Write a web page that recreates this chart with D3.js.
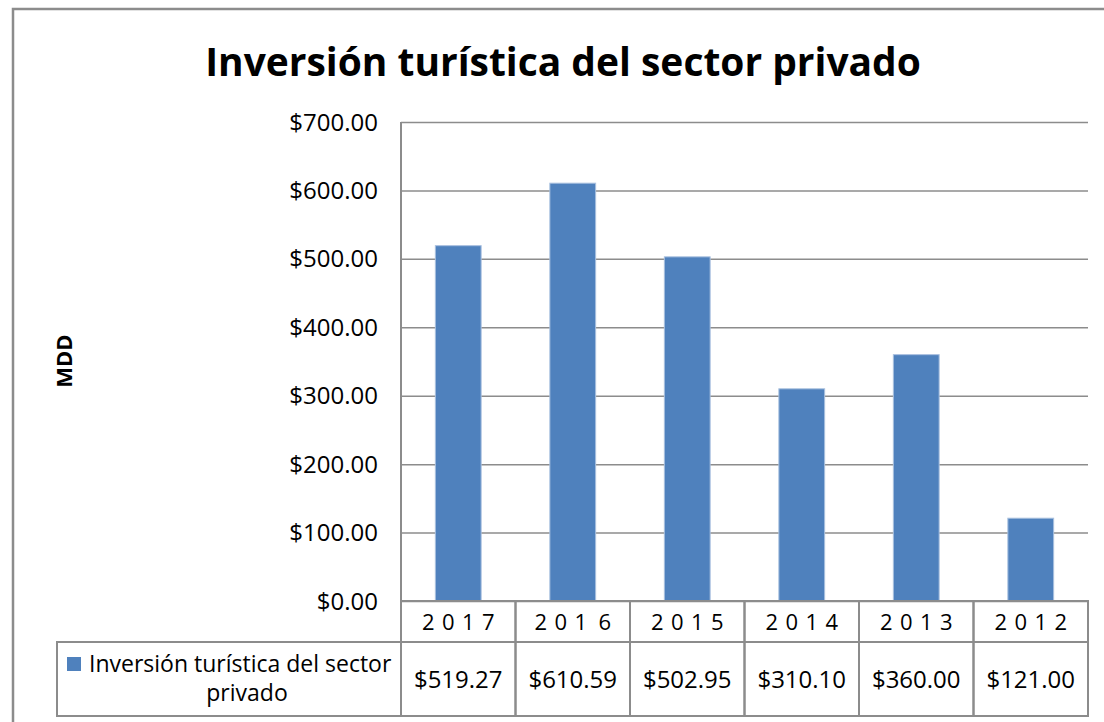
<!DOCTYPE html>
<meta charset="utf-8">
<style>
body { margin: 0; background: #fff; }
svg { font-family: "Open Sans", sans-serif; display: block; }
.grid line { stroke: #8c8c8c; stroke-width: 1.5; }
.grid path { display: none; }
.cell { fill: none; stroke: #8c8c8c; stroke-width: 2; }
</style>
<body>
<svg width="1104" height="722"></svg>
<script src="https://d3js.org/d3.v7.min.js"></script>
<script>
var years = ["2017", "201 6", "2015", "2014", "2013", "2012"];
var values = [519.27, 610.59, 502.95, 310.10, 360.00, 121.00];
var yTicks = [0, 100, 200, 300, 400, 500, 600, 700];
var seriesName = ["Inversión turística del sector", "privado"];
var title = "Inversión turística del sector privado";

var svg = d3.select("svg");
var money = d3.format("$,.2f");
var blue = "#4f81bd";

// outer frame of the chart area (runs off right/bottom)
svg.append("path")
    .attr("d", "M13,1104 V9 H1104")
    .attr("fill", "none")
    .attr("stroke", "#8c8c8c")
    .attr("stroke-width", 2.5);

var x = d3.scaleBand()
    .domain(years)
    .range([401, 1088])
    .paddingInner(0.6)
    .paddingOuter(0.3);

var y = d3.scaleLinear()
    .domain([0, 700])
    .range([601, 122]);

// title, fit to the width it has in the original
var t = svg.append("text")
    .attr("x", 563)
    .attr("y", 76)
    .attr("text-anchor", "middle")
    .style("font-weight", "bold")
    .style("font-size", "40px")
    .text(title);
var tw = t.node().getComputedTextLength();
t.style("font-size", (40 * 716 / tw) + "px");

// gridlines
svg.append("g")
    .attr("class", "grid")
    .attr("transform", "translate(401,0)")
    .call(d3.axisRight(y).tickValues(yTicks).tickSize(687).tickFormat(""));

// y labels
svg.append("g")
  .selectAll("text")
  .data(yTicks)
  .enter().append("text")
    .attr("x", 378)
    .attr("y", function(d) { return y(d); })
    .attr("dy", "0.36em")
    .attr("text-anchor", "end")
    .style("font-size", "24px")
    .text(function(d) { return money(d); });

// y axis line
svg.append("line")
    .attr("x1", 401).attr("x2", 401)
    .attr("y1", y(700)).attr("y2", y(0))
    .attr("stroke", "#8c8c8c")
    .attr("stroke-width", 2);

// bars
svg.append("g")
  .selectAll("rect")
  .data(values)
  .enter().append("rect")
    .attr("x", function(d, i) { return x(years[i]); })
    .attr("y", function(d) { return y(d); })
    .attr("width", x.bandwidth())
    .attr("height", function(d) { return y(0) - y(d); })
    .attr("fill", blue)
    .attr("stroke", "#a9c0df")
    .attr("stroke-width", 1);

// data table
var x0 = x.range()[0], step = x.step();
var rowTop = 601, rowMid = 642, rowBot = 716;

var table = svg.append("g");
years.forEach(function(yr, i) {
    var cx = x0 + i * step;
    table.append("rect").attr("class", "cell")
        .attr("x", cx).attr("y", rowTop).attr("width", step).attr("height", rowMid - rowTop);
    table.append("rect").attr("class", "cell")
        .attr("x", cx).attr("y", rowMid).attr("width", step).attr("height", rowBot - rowMid);
    table.append("text")
        .attr("x", cx + step / 2 + 3.7)
        .attr("y", (rowTop + rowMid) / 2 + 1)
        .attr("dy", "0.36em")
        .attr("text-anchor", "middle")
        .style("font-size", "22px")
        .style("letter-spacing", "7.4px")
        .style("word-spacing", "-9px")
        .text(yr);
    table.append("text")
        .attr("x", cx + step / 2)
        .attr("y", (rowMid + rowBot) / 2)
        .attr("dy", "0.36em")
        .attr("text-anchor", "middle")
        .style("font-size", "24px")
        .text(money(values[i]));
});

// legend cell
table.append("rect").attr("class", "cell")
    .attr("x", 57).attr("y", rowMid).attr("width", x0 - 57).attr("height", rowBot - rowMid);
table.append("rect")
    .attr("x", 67).attr("y", 657)
    .attr("width", 14).attr("height", 14)
    .attr("fill", blue);
table.append("text")
    .attr("x", 89).attr("y", 672)
    .style("font-size", "23px")
    .text(seriesName[0]);
table.append("text")
    .attr("x", 247).attr("y", 701)
    .attr("text-anchor", "middle")
    .style("font-size", "23px")
    .text(seriesName[1]);

// axis title
svg.append("text")
    .attr("transform", "translate(72,361) rotate(-90)")
    .attr("text-anchor", "middle")
    .style("font-weight", "bold")
    .style("font-size", "22px")
    .text("MDD");
</script>
</body>
